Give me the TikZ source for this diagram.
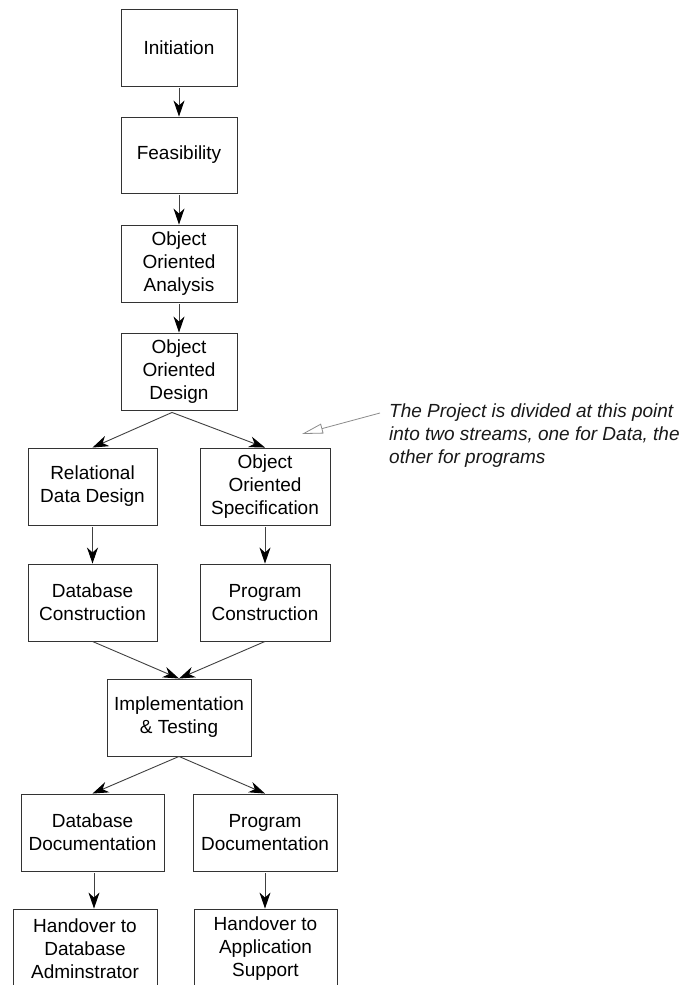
\documentclass[tikz,border=0pt]{standalone}
\usepackage{fontspec}
\setmainfont{Liberation Sans}
\usetikzlibrary{arrows.meta,calc}
\begin{document}
\begin{tikzpicture}[x=1pt,y=-1pt,
  box/.style={draw=black!80, line width=0.9pt, align=center, inner sep=0pt,
    font=\fontsize{19}{23}\selectfont, text=black},
  flow/.style={draw=black!75, line width=0.9pt,
    -{Stealth[length=16pt,width=11pt,inset=5pt,color=black]}},
  annot/.style={draw=black!45, line width=0.8pt,
    -{Triangle[open,length=21pt,width=10pt]}},
  notetext/.style={align=left, inner sep=0pt, anchor=base west,
    font=\fontsize{19}{23}\selectfont\itshape, text=black!90}]
\useasboundingbox (0,0) rectangle (685,985);
\clip (0,0) rectangle (685,985);
\fill[white] (0,0) rectangle (685,985);

\node[box, minimum width=116pt, minimum height=77pt] (init) at (179,47.5) {Initiation};
\node[box, minimum width=116pt, minimum height=76pt] (feas) at (179,155) {Feasibility};
\node[box, minimum width=116pt, minimum height=77pt] (ooa) at (179,263.5) {Object\\Oriented\\Analysis};
\node[box, minimum width=116pt, minimum height=77pt] (ood) at (179,371.5) {Object\\Oriented\\Design};
\node[box, minimum width=129pt, minimum height=77pt] (rdd) at (92.5,486.5) {Relational\\Data Design};
\node[box, minimum width=130pt, minimum height=77pt] (oos) at (265,486.5) {Object\\Oriented\\Specification};
\node[box, minimum width=129pt, minimum height=77pt] (dbc) at (92.5,602.5) {Database\\Construction};
\node[box, minimum width=130pt, minimum height=77pt] (pc) at (265,602.5) {Program\\Construction};
\node[box, minimum width=144pt, minimum height=77pt] (impl) at (179,717.5) {Implementation\\\& Testing};
\node[box, minimum width=143pt, minimum height=77pt] (dbd) at (92.5,832.5) {Database\\Documentation};
\node[box, minimum width=144pt, minimum height=77pt] (pd) at (265,832.5) {Program\\Documentation};
\node[box, minimum width=144pt, minimum height=80pt] (hdb) at (85,949) {Handover to\\Database\\Adminstrator};
\node[box, minimum width=143pt, minimum height=80pt] (hap) at (265.5,949) {Handover to\\Application\\Support};

\node[notetext] (note) at (389,463) {The Project is divided at this point\\into two streams, one for Data, the\\other for programs};
\coordinate (noteA) at (380,413);
\coordinate (noteB) at (302,434);

\draw[flow] ($(init.south)+(0,2)$) -- (feas.north);
\draw[flow] ($(feas.south)+(0,2)$) -- (ooa.north);
\draw[flow] ($(ooa.south)+(0,2)$) -- (ood.north);
\coordinate (oodsplit) at ($(ood.south)+(-7,2)$);
\draw[flow] (oodsplit) -- (rdd.north);
\draw[flow] (oodsplit) -- (oos.north);
\draw[flow] ($(rdd.south)+(0,2)$) -- (dbc.north);
\draw[flow] ($(oos.south)+(0,2)$) -- (pc.north);
\draw[flow] (dbc.south) -- (impl.north);
\draw[flow] (pc.south) -- (impl.north);
\draw[flow] (impl.south) -- (dbd.north);
\draw[flow] (impl.south) -- (pd.north);
\draw[flow] ($(dbd.south)+(1.5,2)$) -- ($(dbd.south |- hdb.north)+(1.5,0)$);
\draw[flow] ($(pd.south)+(0,2)$) -- (pd.south |- hap.north);

\draw[annot] (noteA) -- (noteB);
\end{tikzpicture}
\end{document}
